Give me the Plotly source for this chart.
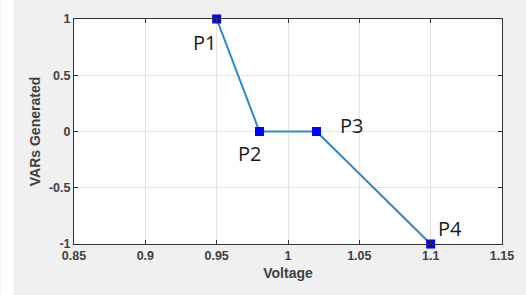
import plotly.graph_objects as go

voltage = [0.95, 0.98, 1.02, 1.1]
vars_gen = [1, 0, 0, -1]
labels = ["P1", "P2", "P3", "P4"]
label_shift = [(-12, -23), (-10, -22), (35, 6), (19, 16)]

x_ticks = [0.85, 0.9, 0.95, 1, 1.05, 1.1, 1.15]
x_tick_text = ["0.85", "0.9", "0.95", "1", "1.05", "1.1", "1.15"]
y_ticks = [-1, -0.5, 0, 0.5, 1]
y_tick_text = ["-1", "-0.5", "0", "0.5", "1"]

fig = go.Figure()
fig.add_trace(go.Scatter(
    x=voltage, y=vars_gen, mode="lines+markers",
    line=dict(color="#2f86c8", width=2),
    marker=dict(symbol="square", size=9, color="#0000ff"),
    showlegend=False, cliponaxis=False,
))

for xv, yv, t, (dx, dy) in zip(voltage, vars_gen, labels, label_shift):
    fig.add_annotation(x=xv, y=yv, text=t, showarrow=False,
                       xshift=dx, yshift=dy,
                       font=dict(family="Open Sans, Noto Sans", size=20, color="#1a1a1a"))

axis_common = dict(
    showline=True, linecolor="#333333", linewidth=1, mirror="ticks",
    ticks="inside", ticklen=4, tickcolor="#333333",
    showgrid=True, gridcolor="#e3e3e3", gridwidth=1, zeroline=False,
    tickfont=dict(family="Arial, Liberation Sans", size=12.5, color="#404040", weight="bold"),
)

title_font = dict(family="Arial, Liberation Sans", size=14, color="#404040", weight="bold")

fig.update_layout(
    width=526, height=295,
    margin=dict(l=74, r=21, t=18, b=51),
    paper_bgcolor="#f0f0f0", plot_bgcolor="white",
    xaxis=dict(range=[0.85, 1.15], tickvals=x_ticks, ticktext=x_tick_text,
               title=dict(text="Voltage", standoff=6, font=title_font),
               **axis_common),
    yaxis=dict(range=[-1, 1], tickvals=y_ticks, ticktext=y_tick_text,
               title=dict(text="VARs Generated", standoff=5, font=title_font),
               **axis_common),
    shapes=[dict(type="rect", xref="paper", yref="paper",
                 x0=-74/431, x1=-61/431, y0=-1, y1=2,
                 fillcolor="white", line=dict(width=0), layer="below")],
)

fig.write_html("out.html", config={"displayModeBar": False},
               post_script="document.body.style.margin='0';")
